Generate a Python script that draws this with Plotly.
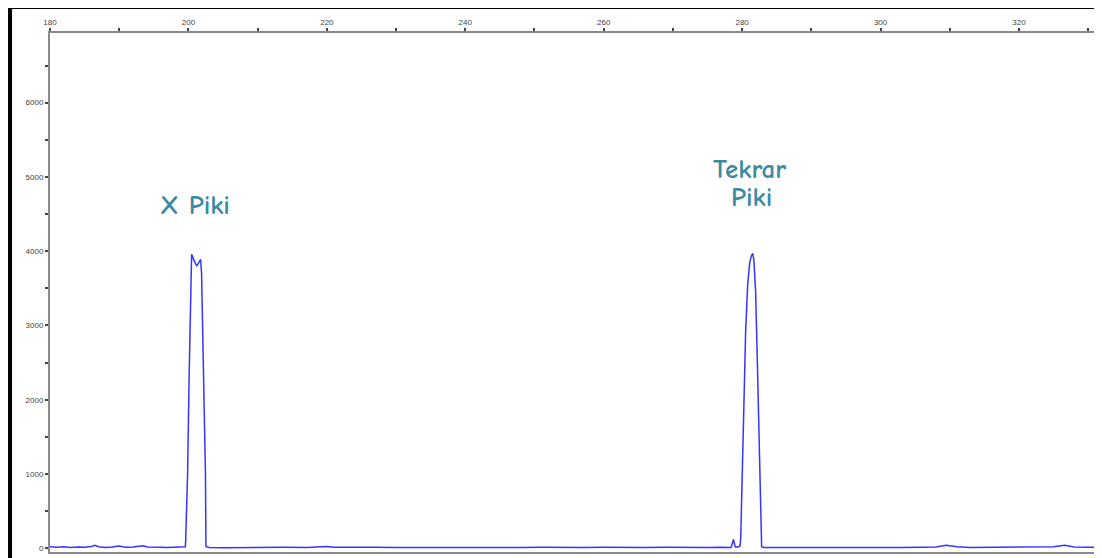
import plotly.graph_objects as go

# Fragment size (bp) and signal intensity (RFU)
size_bp = [
    180, 181, 182, 183, 184, 185, 186, 186.5, 187, 188, 189, 190, 190.5, 191, 192, 193, 193.5, 194, 195, 196, 197, 198, 199, 199.55,
    199.6, 199.75, 199.88, 200.1, 200.32, 200.46, 200.7, 201.0, 201.18, 201.45, 201.76, 201.9, 202.05, 202.3, 202.46, 202.53,
    203, 205, 208, 211, 214, 217, 219, 220, 221, 224, 227, 230, 233, 236, 239, 242, 245, 248, 251, 254, 257, 260, 263, 266,
    269, 272, 275, 277, 278.4, 278.75, 279.0, 279.3, 279.7, 279.8, 279.95, 280.2, 280.5, 280.8, 281.1, 281.35, 281.52, 281.7,
    281.95, 282.2, 282.45, 282.7, 282.82, 283.1, 285, 288, 291, 294, 297, 300, 303, 306, 308, 309.5, 311, 313, 316, 319, 322,
    325, 326.6, 328, 330, 331.5,
]
signal_rfu = [
    20, 15, 22, 12, 18, 14, 25, 40, 22, 12, 18, 30, 20, 14, 18, 28, 35, 18, 12, 15, 10, 14, 12, 20,
    100, 600, 1000, 2300, 3500, 3960, 3900, 3830, 3800, 3840, 3890, 3700, 3000, 1800, 1000, 25,
    10, 8, 12, 10, 14, 12, 18, 25, 15, 10, 14, 12, 16, 10, 12, 15, 10, 12, 14, 10, 12, 15, 10, 12,
    14, 10, 12, 15, 12, 120, 20, 15, 30, 150, 800, 1900, 2900, 3550, 3850, 3940, 3970, 3880,
    3450, 2500, 1400, 300, 20, 12, 10, 14, 10, 12, 15, 10, 12, 14, 18, 40, 20, 12, 14, 10, 15,
    22, 40, 18, 14, 16,
]

x_ticks = [180, 200, 220, 240, 260, 280, 300, 320]
y_ticks = [0, 1000, 2000, 3000, 4000, 5000, 6000]

labels = ["X Piki", "Tekrar", "Piki"]
label_x = [201.0, 281.0, 281.4]
label_y = [4610, 5094, 4717]

fig = go.Figure()
fig.add_trace(go.Scatter(
    x=size_bp, y=signal_rfu, mode="lines",
    line=dict(color="#3535ff", width=1.5),
    showlegend=False,
))

for t, lx, ly in zip(labels, label_x, label_y):
    fig.add_annotation(
        x=lx, y=ly, text=f"<b>{t}</b>", showarrow=False,
        font=dict(family="Comic Sans MS, Comic Neue, DejaVu Sans", size=27, color="#3a8aa2"),
        align="center",
    )

axis_color = "#8a8a8a"
fig.update_xaxes(
    side="top", range=[180, 331.56], tickvals=x_ticks, automargin=False,
    showgrid=False, zeroline=False,
    showline=True, linecolor=axis_color, linewidth=2, mirror=True,
    ticks="outside", ticklen=3, tickwidth=1.5, tickcolor="#444",
    minor=dict(dtick=10, ticks="outside", ticklen=3, tickwidth=1.5, tickcolor="#444"),
    tickfont=dict(family="Liberation Sans, Arial", size=8, color="#444"),
)
fig.update_yaxes(
    range=[-50, 6938], tickvals=y_ticks, automargin=False,
    showgrid=False, zeroline=False,
    showline=True, linecolor=axis_color, linewidth=2,
    ticks="outside", ticklen=3, tickwidth=1.5, tickcolor="#444",
    minor=dict(dtick=500, ticks="outside", ticklen=3, tickwidth=1.5, tickcolor="#444"),
    tickfont=dict(family="Liberation Sans, Arial", size=8, color="#444"),
)

# outer black frame
fig.add_shape(
    type="rect", xref="paper", yref="paper",
    x0=-0.0381, x1=1.0003, y0=-0.06, y1=1.0501,
    line=dict(color="black", width=4), fillcolor="rgba(0,0,0,0)", layer="above",
)

# page body has an 8px default margin, so the figure is sized/offset to compensate
fig.update_layout(
    width=1094, height=550,
    margin=dict(l=42, r=3, t=25, b=6),
    paper_bgcolor="white", plot_bgcolor="white",
)

fig.write_html("out.html")
